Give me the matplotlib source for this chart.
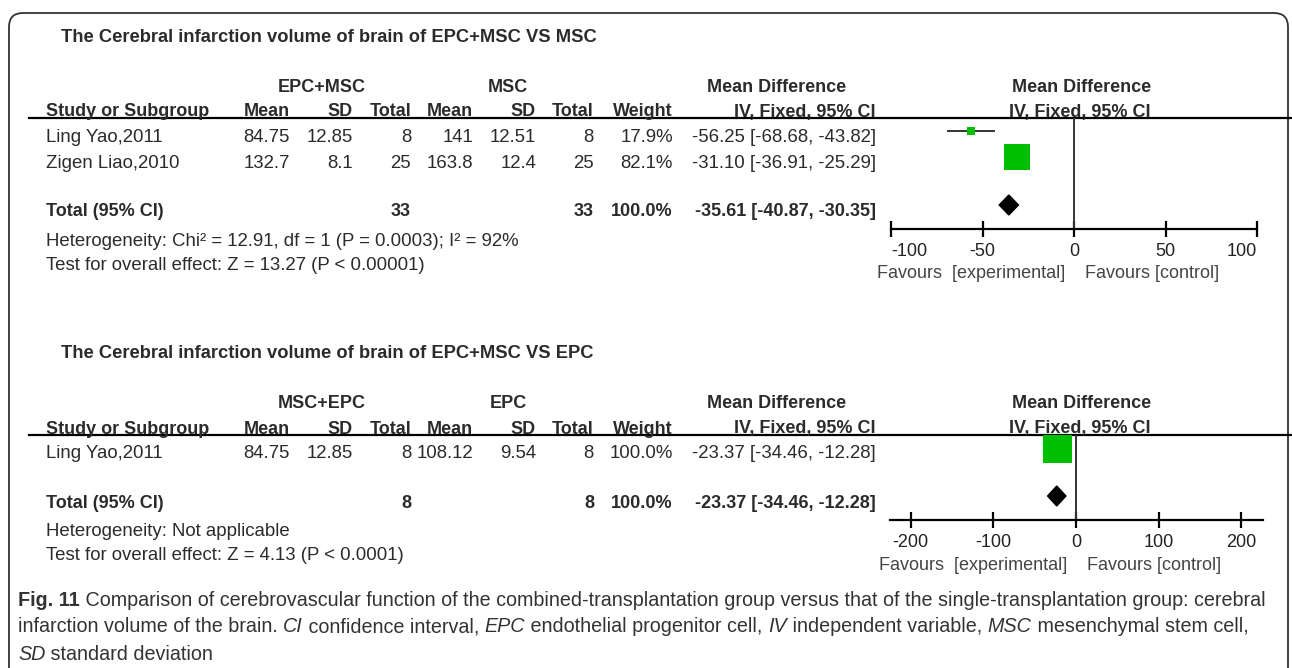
import matplotlib
matplotlib.use("Agg")
import matplotlib.pyplot as plt
from matplotlib.patches import FancyBboxPatch, Polygon

W, H = 1292, 668
plt.rcParams["font.family"] = ["Liberation Sans", "DejaVu Sans"]

# ---- data: panel 1 (EPC+MSC vs MSC)
p1_title = "The Cerebral infarction volume of brain of EPC+MSC VS MSC"
p1_groups = ["EPC+MSC", "MSC"]
p1_studies = ["Ling Yao,2011", "Zigen Liao,2010"]
p1_exp_mean = [84.75, 132.7]
p1_exp_sd = [12.85, 8.1]
p1_exp_n = [8, 25]
p1_ctl_mean = [141, 163.8]
p1_ctl_sd = [12.51, 12.4]
p1_ctl_n = [8, 25]
p1_weight = [17.9, 82.1]
p1_md = [-56.25, -31.10]
p1_lo = [-68.68, -36.91]
p1_hi = [-43.82, -25.29]
p1_total = [-35.61, -40.87, -30.35]
p1_total_n = [33, 33]
p1_het = "Heterogeneity: Chi² = 12.91, df = 1 (P = 0.0003); I² = 92%"
p1_test = "Test for overall effect: Z = 13.27 (P < 0.00001)"
p1_ticks = [-100, -50, 0, 50, 100]

# ---- data: panel 2 (EPC+MSC vs EPC)
p2_title = "The Cerebral infarction volume of brain of EPC+MSC VS EPC"
p2_groups = ["MSC+EPC", "EPC"]
p2_studies = ["Ling Yao,2011"]
p2_exp_mean = [84.75]
p2_exp_sd = [12.85]
p2_exp_n = [8]
p2_ctl_mean = [108.12]
p2_ctl_sd = [9.54]
p2_ctl_n = [8]
p2_weight = [100.0]
p2_md = [-23.37]
p2_lo = [-34.46]
p2_hi = [-12.28]
p2_total = [-23.37, -34.46, -12.28]
p2_total_n = [8, 8]
p2_het = "Heterogeneity: Not applicable"
p2_test = "Test for overall effect: Z = 4.13 (P < 0.0001)"
p2_ticks = [-200, -100, 0, 100, 200]

TXT = "#2b2b2b"
GREEN = "#00bf00"
FS = 13        # bold headers
FS_ROW = 13.4  # plain table text

# right edges of the table columns (pixels)
COL = dict(mean_e=290, sd_e=353, n_e=411, mean_c=473, sd_c=536, n_c=594,
           weight=673, ci=876)

fig = plt.figure(figsize=(W / 100, H / 100), dpi=100)
ax0 = fig.add_axes([0, 0, 1, 1])
ax0.set_xlim(0, W)
ax0.set_ylim(H, 0)
ax0.axis("off")

frame = FancyBboxPatch((9, 13), 1279, 700, boxstyle="round,pad=0,rounding_size=14",
                       fc="none", ec="#333333", lw=1.3)
ax0.add_patch(frame)


def t(x, y, s, ha="left", bold=False, color=TXT, size=None, **kw):
    if size is None:
        size = FS if bold else FS_ROW
    return ax0.text(x, y, s, ha=ha, va="center_baseline", fontsize=size,
                    fontweight="bold" if bold else "normal", color=color, **kw)


def panel(title_y, title, groups, studies, me, se, ne, mc, sc, nc, wt, md, lo, hi,
          total, total_n, het, test, ticks, xlim, px):
    t(61, title_y, title, bold=True, size=13.2)
    grp_y = title_y + 50
    hdr_y = title_y + 75
    line_y = title_y + 83
    t(322, grp_y, groups[0], ha="center", bold=True)
    t(508, grp_y, groups[1], ha="center", bold=True)
    t(777, grp_y, "Mean Difference", ha="center", bold=True)
    t(1082, grp_y, "Mean Difference", ha="center", bold=True)
    t(46, hdr_y, "Study or Subgroup", bold=True)
    for key, lab in [("mean_e", "Mean"), ("sd_e", "SD"), ("n_e", "Total"),
                     ("mean_c", "Mean"), ("sd_c", "SD"), ("n_c", "Total"),
                     ("weight", "Weight"), ("ci", "IV, Fixed, 95% CI")]:
        t(COL[key], hdr_y, lab, ha="right", bold=True)
    t(1080, hdr_y, "IV, Fixed, 95% CI", ha="center", bold=True)
    ax0.plot([29, W], [line_y, line_y], color="black", lw=1.6)

    rows = [title_y + 100 + 26 * i for i in range(len(studies))]
    for i, y in enumerate(rows):
        t(46, y, studies[i])
        t(COL["mean_e"], y, f"{me[i]:g}", ha="right")
        t(COL["sd_e"], y, f"{se[i]:g}", ha="right")
        t(COL["n_e"], y, f"{ne[i]}", ha="right")
        t(COL["mean_c"], y, f"{mc[i]:g}", ha="right")
        t(COL["sd_c"], y, f"{sc[i]:g}", ha="right")
        t(COL["n_c"], y, f"{nc[i]}", ha="right")
        t(COL["weight"], y, f"{wt[i]:.1f}%", ha="right")
        t(COL["ci"], y, f"{md[i]:.2f} [{lo[i]:.2f}, {hi[i]:.2f}]", ha="right")
    tot_y = rows[-1] + 49
    t(46, tot_y, "Total (95% CI)", bold=True)
    t(COL["n_e"], tot_y, f"{total_n[0]}", ha="right", bold=True)
    t(COL["n_c"], tot_y, f"{total_n[1]}", ha="right", bold=True)
    t(COL["weight"], tot_y, f"{sum(wt):.1f}%", ha="right", bold=True)
    t(COL["ci"], tot_y, f"{total[0]:.2f} [{total[1]:.2f}, {total[2]:.2f}]",
      ha="right", bold=True)
    t(46, tot_y + 29, het)
    t(46, tot_y + 53, test)

    # forest plot, y in figure pixels
    axis_y = tot_y + 19
    x0, x1 = px
    ax = fig.add_axes([x0 / W, 1 - axis_y / H, (x1 - x0) / W, (axis_y - line_y) / H])
    ax.set_xlim(*xlim)
    ax.set_ylim(axis_y, line_y)
    ax.patch.set_visible(False)
    for s in ["top", "left", "right"]:
        ax.spines[s].set_visible(False)
    ax.spines["bottom"].set_linewidth(1.6)
    ax.set_yticks([])
    ax.axvline(0, color="#333333", lw=1.4)
    for i, y in enumerate(rows):
        ym = y - 4
        ax.plot([lo[i], hi[i]], [ym, ym], color="#333333", lw=1.4, zorder=2)
        side = 29 * (wt[i] / 100) ** 0.7
        ax.scatter([md[i]], [ym], marker="s", s=(side * 0.72) ** 2, color=GREEN,
                   linewidths=0, zorder=3)
    ym = tot_y - 5
    ax.add_patch(Polygon([(total[1], ym), (total[0], ym - 10), (total[2], ym),
                          (total[0], ym + 10)], closed=True, color="black", zorder=3))
    ax.set_xticks(ticks)
    ax.set_xticklabels([f"{v:g}" for v in ticks])
    ax.tick_params(axis="x", direction="inout", length=12, width=1.6, pad=4,
                   labelsize=FS, labelcolor="#222222")
    for v, lab in zip(ticks, ax.get_xticklabels()):
        if v == xlim[0]:
            lab.set_ha("left")
        elif v == xlim[1]:
            lab.set_ha("right")
    zx = x0 + (0 - xlim[0]) / (xlim[1] - xlim[0]) * (x1 - x0)
    t(zx - 9, tot_y + 62, "Favours  [experimental]", ha="right", color="#444444", size=FS)
    t(zx + 11, tot_y + 62, "Favours [control]", color="#444444", size=FS)


panel(35, p1_title, p1_groups, p1_studies, p1_exp_mean, p1_exp_sd, p1_exp_n,
      p1_ctl_mean, p1_ctl_sd, p1_ctl_n, p1_weight, p1_md, p1_lo, p1_hi,
      p1_total, p1_total_n, p1_het, p1_test, p1_ticks, (-100, 100), (891, 1257))
panel(352, p2_title, p2_groups, p2_studies, p2_exp_mean, p2_exp_sd, p2_exp_n,
      p2_ctl_mean, p2_ctl_sd, p2_ctl_n, p2_weight, p2_md, p2_lo, p2_hi,
      p2_total, p2_total_n, p2_het, p2_test, p2_ticks, (-225, 226), (890, 1263))

# ---- caption with mixed styles
cap_lines = [
    [("Fig. 11", "bold"), (" Comparison of cerebrovascular function of the combined-transplantation "
                          "group versus that of the single-transplantation group: cerebral", "normal")],
    [("infarction volume of the brain. ", "normal"), ("CI", "italic"),
     (" confidence interval, ", "normal"), ("EPC", "italic"),
     (" endothelial progenitor cell, ", "normal"), ("IV", "italic"),
     (" independent variable, ", "normal"), ("MSC", "italic"),
     (" mesenchymal stem cell,", "normal")],
    [("SD", "italic"), (" standard deviation", "normal")],
]
renderer = fig.canvas.get_renderer()


def runs(y, parts, size):
    x = 18
    for s, style in parts:
        txt = ax0.text(x, y, s, fontsize=size, va="center_baseline", color="#333333",
                       fontweight="bold" if style == "bold" else "normal",
                       fontstyle="italic" if style == "italic" else "normal")
        x += txt.get_window_extent(renderer).width
    return x


probe = runs(-100, cap_lines[0], 12) - 18
cap_fs = 12 * 1244 / probe
for txt in list(ax0.texts)[-len(cap_lines[0]):]:
    txt.remove()
for k, parts in enumerate(cap_lines):
    runs(598 + 27 * k, parts, cap_fs)

fig.savefig("out.png", dpi=100, facecolor="white")
